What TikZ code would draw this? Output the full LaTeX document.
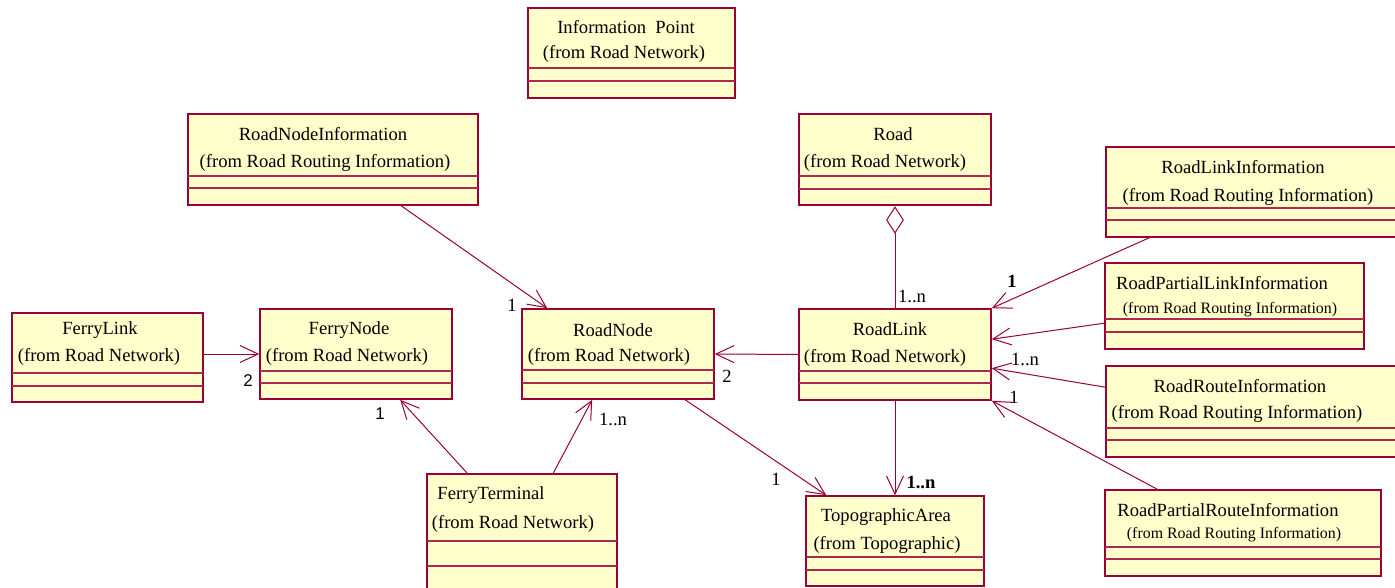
\documentclass[tikz,border=0pt]{standalone}
\usepackage{fontspec}
\setmainfont{Liberation Serif}
\newfontfamily\lsans{Liberation Sans}
\usetikzlibrary{arrows.meta,shapes.geometric,fit,calc}
\definecolor{umlborder}{RGB}{153,0,51}
\definecolor{umlfill}{RGB}{255,255,204}
\definecolor{umlsep}{RGB}{175,40,80}
\tikzset{
  cls/.style={draw=umlborder, fill=umlfill, line width=1.6pt, inner sep=0pt, rectangle},
  sepline/.style={draw=umlsep, line width=1.1pt},
  txt/.style={inner sep=0pt, font=\fontsize{18.6pt}{22pt}\selectfont},
  smalltxt/.style={inner sep=0pt, font=\fontsize{15.9pt}{19pt}\selectfont},
  lab/.style={inner sep=0pt, font=\fontsize{18.6pt}{22pt}\selectfont},
  sanslab/.style={inner sep=0pt, font=\lsans\fontsize{17pt}{20pt}\selectfont},
  conn/.style={draw=umlborder, line width=1pt},
  arr/.style={conn, -{Straight Barb[length=18pt,width=17pt]}},
  aggd/.style={diamond, draw=umlborder, fill=white, line width=1pt, inner sep=0pt,
    minimum width=17pt, minimum height=26pt, aspect=0.65},
}
\newcommand\umlbox[7]{%
  \node[cls, fit={(#2,#3) (#4,#5)}] (#1) {};
  \draw[sepline] (#2,#6) -- (#4,#6);
  \draw[sepline] (#2,#7) -- (#4,#7);
}
\begin{document}
\begin{tikzpicture}[x=1pt,y=-1pt]
\useasboundingbox (0,0) rectangle (1395,588);
\fill[white] (0,0) rectangle (1395,588);
\clip (0,0) rectangle (1395,588);

% boxes
\umlbox{ip}{528}{8}{735}{98}{68}{81}
\umlbox{rni}{188}{114}{478}{205}{176}{188}
\umlbox{fl}{12}{313}{203}{402}{373}{386}
\umlbox{fn}{260}{309}{452}{399}{371}{383}
\umlbox{rn}{522}{309}{714}{399}{370}{383}
\umlbox{road}{799}{114}{991}{205}{176}{189}
\umlbox{rl}{799}{309}{991}{400}{371}{383}
\umlbox{rli}{1106}{147}{1405}{237}{208}{220}
\umlbox{rpli}{1105}{263}{1364}{349}{319}{332}
\umlbox{rri}{1106}{366}{1405}{457}{428}{440}
\umlbox{rpri}{1105}{490}{1381}{576}{547}{559}
\umlbox{ft}{427}{474}{617}{610}{541}{566}
\umlbox{ta}{806}{496}{984}{586}{557}{570}

% texts
\node[txt] (ip-a) at (626,27) {Information\ \ Point};
\node[txt] (ip-b) at (624,54) {(from Road Network)};
\node[txt] (rni-a) at (323,134) {RoadNodeInformation};
\node[txt] (rni-b) at (325,163) {(from Road Routing Information)};
\node[txt] (fl-a) at (100,330) {FerryLink};
\node[txt] (fl-b) at (99,357) {(from Road Network)};
\node[txt] (fn-a) at (349,330) {FerryNode};
\node[txt] (fn-b) at (347,357) {(from Road Network)};
\node[txt] (rn-a) at (613,330) {RoadNode};
\node[txt] (rn-b) at (609,357) {(from Road Network)};
\node[txt] (road-a) at (893,134) {Road};
\node[txt] (road-b) at (885,163) {(from Road Network)};
\node[txt] (rl-a) at (890,329) {RoadLink};
\node[txt] (rl-b) at (885,358) {(from Road Network)};
\node[txt] (rli-a) at (1243,167) {RoadLinkInformation};
\node[txt] (rli-b) at (1248,197) {(from Road Routing Information)};
\node[txt] (rpli-a) at (1222,283) {RoadPartialLinkInformation};
\node[smalltxt] (rpli-b) at (1230,310) {(from Road Routing Information)};
\node[txt] (rri-a) at (1240,386) {RoadRouteInformation};
\node[txt] (rri-b) at (1237,414) {(from Road Routing Information)};
\node[txt] (rpri-a) at (1228,510) {RoadPartialRouteInformation};
\node[smalltxt] (rpri-b) at (1234,535) {(from Road Routing Information)};
\node[txt] (ft-a) at (491,495) {FerryTerminal};
\node[txt] (ft-b) at (513,524) {(from Road Network)};
\node[txt] (ta-a) at (886,517) {TopographicArea};
\node[txt] (ta-b) at (887,545) {(from Topographic)};

% aggregation diamond
\node[aggd] (agg) at (895,220) {};
\draw[conn] (agg.south) -- (rl.north);

% connectors
\draw[arr] ([xshift=214pt]rni.south west) -- ([xshift=26pt]rn.north west);
\draw[arr] (fl.east |- fn.west) -- (fn.west);
\draw[arr] ([xshift=41pt]ft.north west) -- ([xshift=141pt]fn.south west);
\draw[arr] ([xshift=127pt]ft.north west) -- ([xshift=71pt]rn.south west);
\draw[arr] (rl.west) -- (rn.east);
\draw[arr] ([xshift=164pt]rn.south west) -- ([xshift=21pt]ta.north west);
\draw[arr] (rl.south) -- (ta.north);
\draw[arr] ([xshift=44pt]rli.south west) -- (rl.north east);
\draw[arr] ([yshift=-61pt]rpli.north west) -- ([yshift=-31pt]rl.north east);
\draw[arr] ([yshift=-22pt]rri.north west) -- ([yshift=-60pt]rl.north east);
\draw[arr] ([xshift=53pt]rpri.north west) -- (rl.south east);

% multiplicity labels
\node[lab] (m1) at (512,305) {1};
\node[sanslab] (m2) at (248,381) {2};
\node[sanslab] (m3) at (380,414) {1};
\node[lab] (m4) at (613,419) {1..n};
\node[lab] (m5) at (727,376) {2};
\node[lab] (m6) at (776,479) {1};
\node[lab] (m7) at (921,482) {\textbf{1..n}};
\node[lab] (m8) at (912,296) {1..n};
\node[lab] (m9) at (1012,281) {\textbf{1}};
\node[lab] (m10) at (1025,359) {1..n};
\node[lab] (m11) at (1014,397) {1};
\end{tikzpicture}
\end{document}
